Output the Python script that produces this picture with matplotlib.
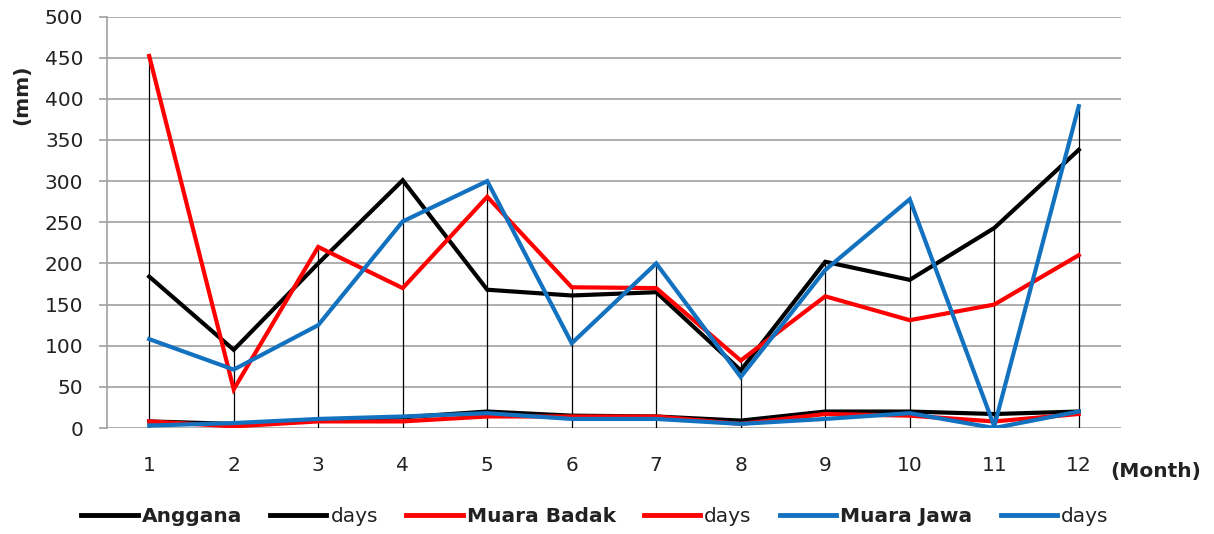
import numpy as np
import matplotlib
matplotlib.use('Agg')
import matplotlib.pyplot as plt

plt.rcParams['font.family'] = ['DejaVu Sans']

# Data
months = [1, 2, 3, 4, 5, 6, 7, 8, 9, 10, 11, 12]
month_labels = ['1', '2', '3', '4', '5', '6', '7', '8', '9', '10', '11', '12']

anggana_mm = [184, 95, 200, 301, 168, 161, 165, 70, 202, 180, 243, 338]
anggana_days = [8, 5, 10, 13, 20, 15, 14, 9, 20, 20, 17, 20]

badak_mm = [452, 47, 220, 170, 281, 171, 170, 82, 160, 131, 150, 210]
badak_days = [8, 2, 8, 8, 14, 14, 14, 5, 17, 15, 8, 17]

jawa_mm = [108, 71, 125, 251, 300, 103, 200, 62, 192, 278, 2, 391]
jawa_days = [3, 6, 11, 14, 18, 11, 11, 5, 11, 18, 0, 20]

series = [
    ('Anggana', anggana_mm, 'black', True),
    ('days', anggana_days, 'black', False),
    ('Muara Badak', badak_mm, '#ff0000', True),
    ('days', badak_days, '#ff0000', False),
    ('Muara Jawa', jawa_mm, '#1372bf', True),
    ('days', jawa_days, '#1372bf', False),
]

fs = 14.5
txt_col = '#222222'

fig = plt.figure(figsize=(12.14, 5.34), dpi=100)
ax = fig.add_axes([0.0881, 0.1985, 0.8353, 0.7706])

# drop lines from the top of each month down to zero
tops = np.max([anggana_mm, anggana_days, badak_mm, badak_days, jawa_mm, jawa_days], axis=0)
ax.vlines(months, 0, tops, color='black', lw=0.9, zorder=2)

handles = []
for name, vals, col, bold in series:
    h, = ax.plot(months, vals, color=col, lw=3.0, label=name, zorder=3,
                 solid_joinstyle='miter')
    handles.append(h)

ax.set_xlim(0.5, 12.5)
ax.set_ylim(0, 500)
ax.set_yticks(np.arange(0, 501, 50))
ax.set_xticks(months)
ax.set_xticklabels(month_labels)

ax.grid(axis='y', color='#a0a0a0', lw=1.2)
ax.set_axisbelow(True)
for s in ['top', 'right', 'bottom']:
    ax.spines[s].set_visible(False)
ax.spines['left'].set_color('#a0a0a0')
ax.spines['left'].set_linewidth(1.2)

ax.tick_params(axis='y', length=6, color='#a0a0a0', width=1.2, pad=11,
               labelsize=fs, labelcolor=txt_col)
ax.tick_params(axis='x', length=0, pad=20, labelsize=fs, labelcolor=txt_col)

ax.set_ylabel('(mm)', fontsize=fs, fontweight='bold', color=txt_col)
ax.yaxis.set_label_coords(-0.075, 0.81)

fig.text(1110 / 1214, 1 - 471 / 534, '(Month)', fontsize=fs, fontweight='bold',
         ha='left', va='center', color=txt_col)

leg = fig.legend(handles=handles, loc='center', bbox_to_anchor=(0.49, 1 - 517 / 534),
                 ncol=6, frameon=False, fontsize=fs, handlelength=2.8,
                 handletextpad=0.2, columnspacing=1.4)
for t, (name, vals, col, bold) in zip(leg.get_texts(), series):
    t.set_color(txt_col)
    if bold:
        t.set_fontweight('bold')
for lh in leg.get_lines():
    lh.set_linewidth(3.5)

fig.savefig('out.png', dpi=100)
